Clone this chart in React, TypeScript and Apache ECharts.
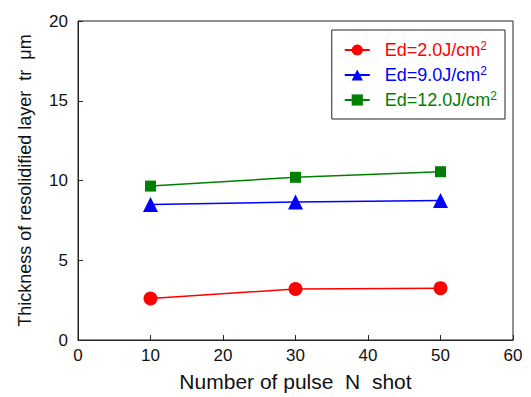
import React, { useEffect, useRef } from "react";
import * as echarts from "echarts";

const xValues = [10, 30, 50];
const seriesNames = ["Ed=2.0J/cm2", "Ed=9.0J/cm2", "Ed=12.0J/cm2"];
const red = [2.6, 3.2, 3.25];
const blue = [8.5, 8.65, 8.75];
const green = [9.65, 10.2, 10.55];
const colors = ["#ff0000", "#0000ff", "#008000"];
const symbols = ["circle", "triangle", "rect"];
const symbolSizes = [14, 15, 11];

export default function App() {
  const ref = useRef<HTMLDivElement>(null);
  useEffect(() => {
    if (!ref.current) return;
    const chart = echarts.init(ref.current, null, { renderer: "svg" });
    const font = "'Liberation Sans', Arial, sans-serif";
    const all = [red, blue, green];
    chart.setOption({
      animation: false,
      textStyle: { fontFamily: font },
      grid: {
        left: 78,
        right: 18,
        top: 21,
        bottom: 57,
        show: true,
        borderColor: "#222",
        borderWidth: 1,
      },
      legend: {
        right: 26,
        top: 30,
        orient: "vertical",
        itemWidth: 25,
        itemHeight: 14,
        itemGap: 6,
        padding: [10, 8, 10, 12],
        borderColor: "#222",
        borderWidth: 1,
        data: seriesNames.map((n, i) => ({
          name: n,
          textStyle: {
            color: colors[i],
            rich: {
              a: { color: colors[i], fontSize: 18, fontFamily: font, padding: [0, 0, 0, 10] },
              s: { color: colors[i], fontSize: 12, fontFamily: font, padding: [0, 0, 8, 0] },
            },
          },
        })),
        formatter: (name: string) => `{a|${name.slice(0, -1)}}{s|2}`,
      },
      xAxis: {
        type: "value",
        min: 0,
        max: 60,
        interval: 10,
        name: "Number of pulse  N  shot",
        nameLocation: "middle",
        nameGap: 31,
        nameTextStyle: { fontSize: 21, color: "#111", fontFamily: font },
        axisLine: { show: true, onZero: false, lineStyle: { color: "#222" } },
        axisTick: { show: true, inside: true, length: 5, lineStyle: { color: "#222" } },
        axisLabel: { fontSize: 17, color: "#111", margin: 7, fontFamily: font },
        splitLine: { show: false },
      },
      yAxis: {
        type: "value",
        min: 0,
        max: 20,
        interval: 5,
        name: "Thickness of resolidified layer  tr  μm",
        nameLocation: "middle",
        nameGap: 44,
        nameTextStyle: { fontSize: 18, color: "#111", fontFamily: font },
        axisLine: { show: true, lineStyle: { color: "#222" } },
        axisTick: { show: true, inside: true, length: 5, lineStyle: { color: "#222" } },
        axisLabel: { fontSize: 17, color: "#111", margin: 10, fontFamily: font },
        splitLine: { show: false },
      },
      series: seriesNames.map((n, i) => ({
        name: n,
        type: "line",
        data: xValues.map((x, j) => [x, all[i][j]]),
        symbol: symbols[i],
        symbolSize: symbolSizes[i],
        itemStyle: { color: colors[i] },
        lineStyle: { color: colors[i], width: 1.5 },
      })),
    });
    return () => chart.dispose();
  }, []);
  return <div ref={ref} style={{ width: 531, height: 397, marginLeft: -8, marginTop: -8, background: "#fff" }} />;
}
